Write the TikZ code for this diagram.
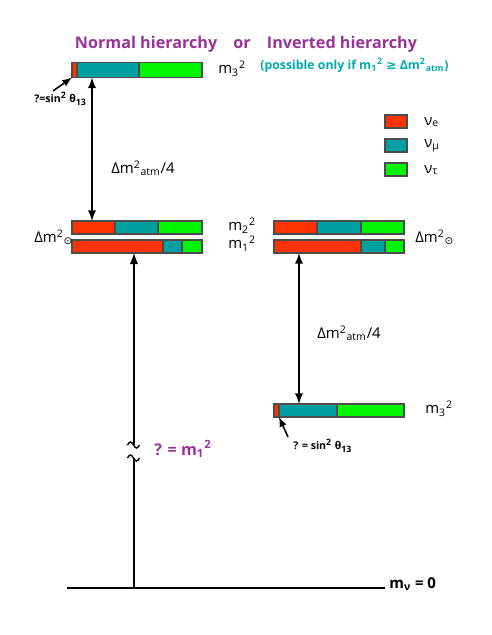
\documentclass[tikz,border=0pt]{standalone}
\usepackage{fontspec}
\setmainfont{Open Sans}
\newfontfamily\symfont{DejaVu Sans}
\usetikzlibrary{positioning}
\definecolor{nured}{HTML}{FF3300}
\definecolor{numu}{HTML}{00A0A0}
\definecolor{nutau}{HTML}{00F500}
\definecolor{titlepurple}{HTML}{993399}
\definecolor{noteteal}{HTML}{00AAAA}
\begin{document}
\begin{tikzpicture}[
        x=0.02cm, y=-0.02cm,
        >=latex,
        seg/.style={draw=black!70, line width=0.6pt, inner sep=0, outer sep=0,
            minimum height=0.26cm},
        nue/.style={seg, fill=nured},
        numu/.style={seg, fill=numu},
        nutau/.style={seg, fill=nutau},
        lvl/.style={font=\fontsize{8.5}{10}\selectfont, anchor=west, inner sep=0},
        gap/.style={<->, line width=1.1pt},
        note/.style={font=\bfseries\fontsize{6}{7}\selectfont, anchor=west, inner sep=0}
    ]
    \useasboundingbox (0,0) rectangle (491,635);

    % title
    \node[font=\bfseries\fontsize{9.2}{11}\selectfont, text=titlepurple, inner sep=0] (title) at (246,44)
        {Normal hierarchy\quad or\quad Inverted hierarchy};
    \node[font=\bfseries\fontsize{7}{8}\selectfont, text=noteteal, anchor=west, inner sep=0] (cond) at (260,65)
        {(possible only if m\textsubscript{1}\textsuperscript{2} {\symfont ≥} Δm\textsuperscript{2}\textsubscript{atm})};

    % normal hierarchy
    \node[nue, minimum height=0.3cm, minimum width=0.1cm, anchor=west] (norm3e) at (72,70) {};
    \node[numu, minimum height=0.3cm, minimum width=1.24cm, right=0pt of norm3e] (norm3mu) {};
    \node[nutau, minimum height=0.3cm, minimum width=1.26cm, right=0pt of norm3mu] (norm3tau) {};
    \node[lvl] (norm3lab) at (218,69) {m\textsubscript{3}\textsuperscript{2}};

    \node[nue, minimum width=0.86cm, anchor=west] (norm2e) at (72,227.5) {};
    \node[numu, minimum width=0.86cm, right=0pt of norm2e] (norm2mu) {};
    \node[nutau, minimum width=0.88cm, right=0pt of norm2mu] (norm2tau) {};
    \node[lvl] (norm2lab) at (228,226) {m\textsubscript{2}\textsuperscript{2}};

    \node[nue, minimum width=1.82cm, anchor=west] (norm1e) at (72,246.5) {};
    \node[numu, minimum width=0.38cm, right=0pt of norm1e] (norm1mu) {};
    \node[nutau, minimum width=0.40cm, right=0pt of norm1mu] (norm1tau) {};
    \node[lvl] (norm1lab) at (228,244) {m\textsubscript{1}\textsuperscript{2}};

    \node[lvl] (normsol) at (34,237) {Δm\textsuperscript{2}\textsubscript{\symfont ⊙}};

    \coordinate (normx) at (92,0);
    \draw[gap] (norm3mu.south -| normx) -- (norm2e.north -| normx);
    \node[lvl] (normatm) at (111,168) {Δm\textsuperscript{2}\textsubscript{atm}/4};

    \node[note] (normtheta) at (34,99) {?=sin\textsuperscript{2} θ\textsubscript{13}};
    \coordinate (normtail) at (53,91);
    \draw[->, line width=0.9pt] (normtail) -- (norm3e.south west);

    % inverted hierarchy
    \node[nue, minimum width=0.86cm, anchor=west] (inv2e) at (274,227.5) {};
    \node[numu, minimum width=0.88cm, right=0pt of inv2e] (inv2mu) {};
    \node[nutau, minimum width=0.86cm, right=0pt of inv2mu] (inv2tau) {};

    \node[nue, minimum width=1.74cm, anchor=west] (inv1e) at (274,246.5) {};
    \node[numu, minimum width=0.48cm, right=0pt of inv1e] (inv1mu) {};
    \node[nutau, minimum width=0.38cm, right=0pt of inv1mu] (inv1tau) {};

    \node[lvl] (invsol) at (415,237) {Δm\textsuperscript{2}\textsubscript{\symfont ⊙}};

    \node[nue, minimum width=0.1cm, anchor=west] (inv3e) at (274,410.5) {};
    \node[numu, minimum width=1.16cm, right=0pt of inv3e] (inv3mu) {};
    \node[nutau, minimum width=1.34cm, right=0pt of inv3mu] (inv3tau) {};
    \node[lvl] (inv3lab) at (425,409) {m\textsubscript{3}\textsuperscript{2}};

    \coordinate (invx) at (299,0);
    \draw[gap] (inv1e.south -| invx) -- (inv3mu.north -| invx);
    \node[lvl] (invatm) at (317,333) {Δm\textsuperscript{2}\textsubscript{atm}/4};

    \node[note] (invtheta) at (293,446) {? = sin\textsuperscript{2} θ\textsubscript{13}};
    \coordinate (invtail) at (288,437);
    \draw[->, line width=0.9pt] (invtail) -- (inv3e.south east);

    % legend
    \node[nue, minimum width=0.44cm, anchor=west] (keye) at (385,121.5) {};
    \node[numu, minimum width=0.44cm, below=0.22cm of keye] (keymu) {};
    \node[nutau, minimum width=0.44cm, below=0.22cm of keymu] (keytau) {};
    \node[lvl] (keyelab) at (424,122) {ν\textsubscript{e}};
    \node[lvl] (keymulab) at (424,146) {ν\textsubscript{μ}};
    \node[lvl] (keytaulab) at (424,170) {ν\textsubscript{τ}};

    % zero line and unknown m1
    \coordinate (zeroleft) at (67,588);
    \coordinate (zeroright) at (385,588);
    \draw[line width=1.1pt] (zeroleft) -- (zeroright);
    \node[font=\bfseries\fontsize{8.5}{10}\selectfont, anchor=west, inner sep=0] (zero) at (389,584)
        {m\textsubscript{ν} = 0};

    \coordinate (upx) at (134,0);
    \coordinate (brklow) at (134,458);
    \coordinate (brkhigh) at (134,445);
    \draw[line width=1.2pt] (zeroleft -| upx) -- (brklow);
    \draw[->, line width=1.2pt] (brkhigh) -- (norm1e.south -| upx);
    \draw[line width=0.8pt] ([xshift=-0.13cm]brklow) sin ++(3,-3) cos ++(3,3) sin ++(3,3) cos ++(3,-3);
    \draw[line width=0.8pt] ([xshift=-0.13cm]brkhigh) sin ++(3,-3) cos ++(3,3) sin ++(3,3) cos ++(3,-3);
    \node[font=\bfseries\fontsize{9.2}{11}\selectfont, text=titlepurple, anchor=west, inner sep=0] (unknown) at (154,449)
        {? = m\textsubscript{1}\textsuperscript{2}};
\end{tikzpicture}
\end{document}
